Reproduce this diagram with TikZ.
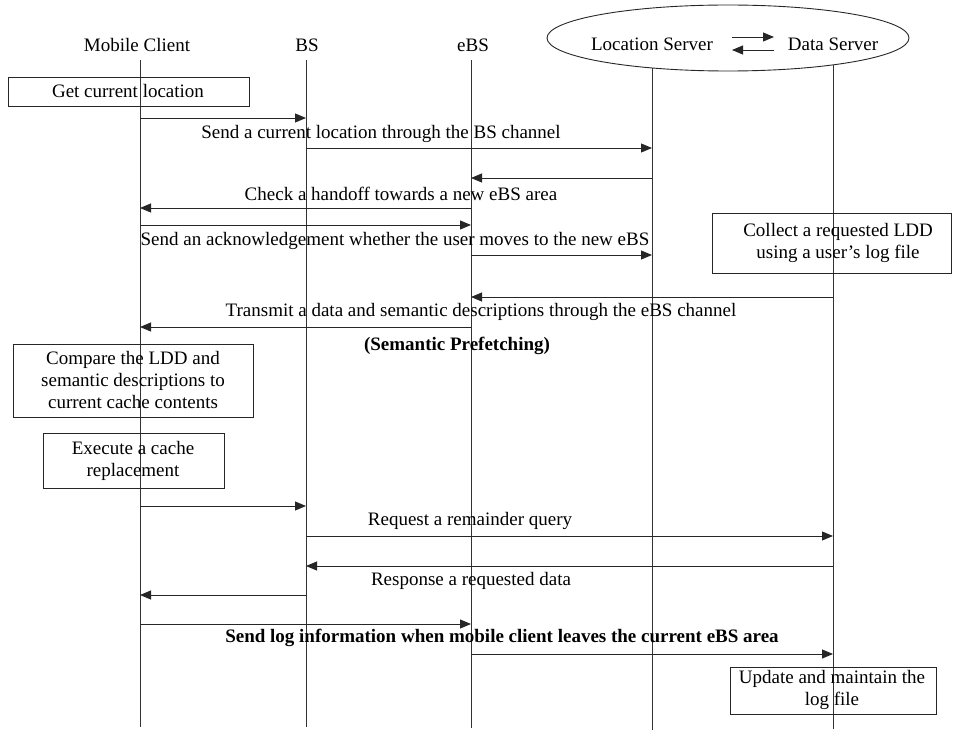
\documentclass[tikz,border=0pt]{standalone}
\usepackage{fontspec}
\setmainfont{Liberation Serif}
\usetikzlibrary{arrows.meta,shapes.geometric}
\tikzset{
  lifeline/.style={draw=black!80, line width=0.9pt},
  msgarrow/.style={draw=black!85, line width=0.9pt, -{Triangle[length=11pt,width=9pt]}},
  actbox/.style={draw=black!85, line width=0.9pt, inner sep=0pt, align=center},
  lbl/.style={inner sep=0pt, font=\fontsize{19}{22}\selectfont},
  blbl/.style={inner sep=0pt, font=\fontsize{19}{22}\selectfont\bfseries},
}
\newcommand\mymsg[4]{\coordinate (#4s) at (#1,#3); \coordinate (#4e) at (#2,#3); \draw[msgarrow] (#4s) -- (#4e);}
\begin{document}
\begin{tikzpicture}[x=1pt,y=-1pt]
\useasboundingbox (0,0) rectangle (955,730);
% headers
\node[lbl] (hmc) at (137,45) {Mobile Client};
\node[lbl] (hbs) at (307,45) {BS};
\node[lbl] (hebs) at (473,45) {eBS};
\node[draw=black!85, line width=0.9pt, ellipse, minimum width=362pt, minimum height=66pt, inner sep=0pt] (servers) at (728,38) {};
\node[lbl] (hls) at (652,44) {Location Server};
\node[lbl] (hds) at (833,44) {Data Server};
\coordinate (sa1) at (732,37); \coordinate (sa2) at (774,37);
\coordinate (sb1) at (774,50); \coordinate (sb2) at (732,50);
\draw[msgarrow] (sa1) -- (sa2);
\draw[msgarrow] (sb1) -- (sb2);
% lifelines
\coordinate (mcT) at (140,60); \coordinate (mcB) at (140,727);
\coordinate (bsT) at (306,60); \coordinate (bsB) at (306,727);
\coordinate (ebT) at (471,60); \coordinate (ebB) at (471,728);
\coordinate (lsT) at (652,68); \coordinate (lsB) at (652,730);
\coordinate (dsT) at (833,65); \coordinate (dsB) at (833,729);
\draw[lifeline] (mcT) -- (mcB);
\draw[lifeline] (bsT) -- (bsB);
\draw[lifeline] (ebT) -- (ebB);
\draw[lifeline] (lsT) -- (lsB);
\draw[lifeline] (dsT) -- (dsB);
% boxes
\draw[actbox] (8,77) rectangle (249,106);
\node[lbl] (b1) at (128,91) {Get current location};
\draw[actbox] (712,213) rectangle (951,273);
\node[lbl, align=center] (b2) at (838,243) {Collect a requested LDD\\using a user's log file};
\draw[actbox] (13,344) rectangle (253,417);
\node[lbl, align=center] (b3) at (133,380) {Compare the LDD and\\semantic descriptions to\\current cache contents};
\draw[actbox] (43,433) rectangle (224,488);
\node[lbl, align=center] (b4) at (133,461) {Execute a cache\\replacement};
\draw[actbox] (730,667) rectangle (936,714);
\node[lbl, align=center] (b5) at (832,690) {Update and maintain the\\log file};
% messages
\mymsg{140}{306}{118}{m1}
\node[lbl] (t1) at (381,134) {Send a current location through the BS channel};
\mymsg{306}{652}{148}{m2}
\mymsg{652}{471}{178}{m3}
\node[lbl] (t2) at (401,194) {Check a handoff towards a new eBS area};
\mymsg{471}{140}{208}{m4}
\mymsg{140}{471}{225}{m5}
\node[lbl] (t3) at (395,241) {Send an acknowledgement whether the user moves to the new eBS};
\mymsg{471}{652}{255}{m6}
\mymsg{833}{471}{297}{m7}
\node[lbl] (t4) at (481,312) {Transmit a data and semantic descriptions through the eBS channel};
\mymsg{471}{140}{327}{m8}
\node[blbl] (t5) at (457,346) {(Semantic Prefetching)};
\mymsg{140}{306}{506}{m9}
\node[lbl] (t6) at (470,521) {Request a remainder query};
\mymsg{306}{833}{536}{m10}
\mymsg{833}{306}{566}{m11}
\node[lbl] (t7) at (471,581) {Response a requested data};
\mymsg{306}{140}{595}{m12}
\mymsg{140}{471}{624}{m13}
\node[blbl] (t8) at (502,638) {Send log information when mobile client leaves the current eBS area};
\mymsg{471}{833}{654}{m14}
\end{tikzpicture}
\end{document}
